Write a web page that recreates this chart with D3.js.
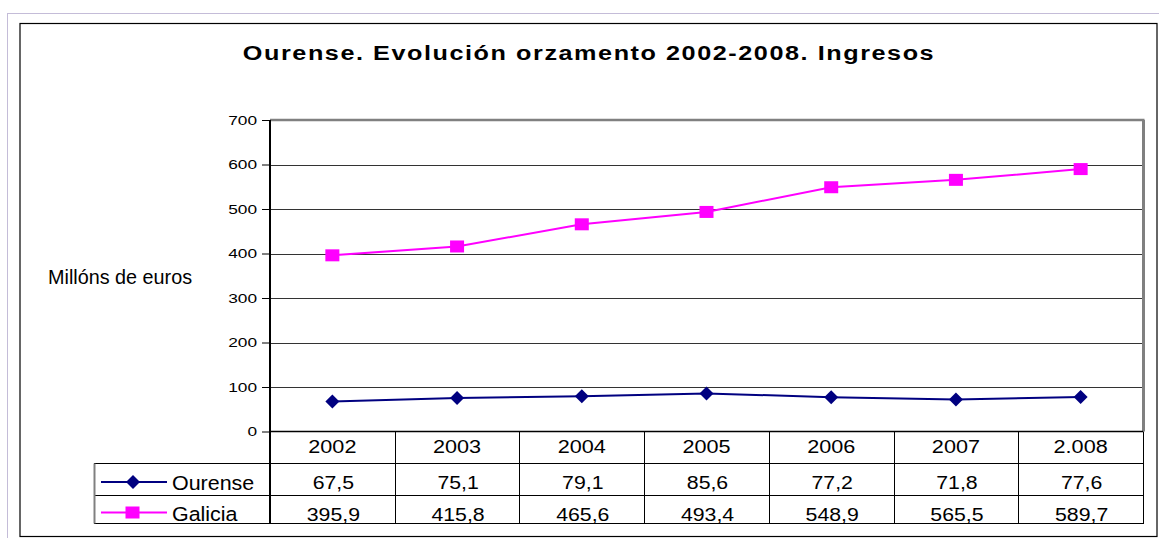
<!DOCTYPE html>
<html><head><meta charset="utf-8">
<script src="https://cdn.jsdelivr.net/npm/d3@7"></script>
<style>body{margin:0;background:#fff}svg{display:block;font-family:"Liberation Sans",Arial,sans-serif}</style>
</head><body>
<script>
const categories = ["2002","2003","2004","2005","2006","2007","2.008"];
const ourense = [67.5,75.1,79.1,85.6,77.2,71.8,77.6];
const galicia = [395.9,415.8,465.6,493.4,548.9,565.5,589.7];
const ourenseLabels = ["67,5","75,1","79,1","85,6","77,2","71,8","77,6"];
const galiciaLabels = ["395,9","415,8","465,6","493,4","548,9","565,5","589,7"];
const yTicks = [0,100,200,300,400,500,600,700];
const title = "Ourense. Evolución orzamento 2002-2008. Ingresos";
const yLabel = "Millóns de euros";

const W = 1159, H = 538;
const svg = d3.select("body").append("svg").attr("width", W).attr("height", H);

function stext(g, x, y, str, size, sx, anchor, extra){
  const t = g.append("text").attr("transform",`translate(${x},${y}) scale(${sx},1)`)
    .attr("font-size", size).attr("text-anchor", anchor || "start").text(str);
  if (extra) extra(t);
  return t;
}

// outer frames
svg.append("line").attr("x1",7).attr("x2",W).attr("y1",13.5).attr("y2",13.5).attr("stroke","#c4bcd8").attr("stroke-width",1);
svg.append("line").attr("x1",7.5).attr("x2",7.5).attr("y1",13).attr("y2",H).attr("stroke","#c4bcd8").attr("stroke-width",1);
svg.append("rect").attr("x",20).attr("y",23.5).attr("width",1137).attr("height",513).attr("fill","none").attr("stroke","#000").attr("stroke-width",1.2);

const pLeft = 270, pRight = 1143, pTop = 120, pBottom = 431.5;
const x = d3.scaleBand().domain(categories).range([pLeft, pRight]);
const y = d3.scaleLinear().domain([0,700]).range([pBottom, pTop]);

// title
stext(svg, 589, 60, title, 21, 1.2, "middle", t=>t.attr("font-weight","bold").attr("letter-spacing","1.3px"));

// y label
stext(svg, 48, 284, yLabel, 20, 0.99, "start");

// gridlines
svg.append("g").selectAll("line").data(yTicks.filter(t=>t>0 && t<700)).join("line")
  .attr("x1", pLeft).attr("x2", pRight).attr("y1", d=>Math.round(y(d))+0.5).attr("y2", d=>Math.round(y(d))+0.5)
  .attr("stroke","#333").attr("stroke-width",1);

// plot border top/right gray
svg.append("line").attr("x1",pLeft).attr("x2",pRight+1.5).attr("y1",pTop).attr("y2",pTop).attr("stroke","#808080").attr("stroke-width",2.5);
svg.append("line").attr("x1",pRight+0.5).attr("x2",pRight+0.5).attr("y1",pTop).attr("y2",pBottom).attr("stroke","#808080").attr("stroke-width",3);

// y axis
const yAxis = d3.axisLeft(y).tickValues(yTicks).tickSize(8).tickPadding(5);
const ya = svg.append("g").attr("transform",`translate(${pLeft},0)`).call(yAxis);
ya.select(".domain").attr("stroke","#000").attr("stroke-width",2).attr("d",`M0,${pTop}V${pBottom+92}`);
ya.selectAll(".tick line").attr("stroke","#000");
ya.selectAll(".tick text").attr("font-size",13.5).attr("font-family","Liberation Sans, Arial, sans-serif").attr("fill","#000")
  .attr("x", -13/1.28).attr("transform","scale(1.28,1)");

// zero line
svg.append("line").attr("x1",pLeft).attr("x2",pRight).attr("y1",pBottom).attr("y2",pBottom).attr("stroke","#000").attr("stroke-width",1.5);

// table
const rowH1 = 463.5, rowH2 = 495.5, rowEnd = 523.5;
const tg = svg.append("g");
tg.selectAll("line.col").data(categories.slice(1)).join("line").attr("class","col")
  .attr("x1", d=>Math.round(x(d))+0.5).attr("x2", d=>Math.round(x(d))+0.5)
  .attr("y1", pBottom).attr("y2", rowEnd).attr("stroke","#000");
tg.append("line").attr("x1",pRight+0.5).attr("x2",pRight+0.5).attr("y1",pBottom).attr("y2",rowEnd).attr("stroke","#000");
[rowH1,rowH2,rowEnd].forEach(yy=>{
  tg.append("line").attr("x1",94).attr("x2",pRight+1).attr("y1",yy).attr("y2",yy).attr("stroke","#000");
});
tg.append("line").attr("x1",94.5).attr("x2",94.5).attr("y1",rowH1).attr("y2",rowEnd).attr("stroke","#808080").attr("stroke-width",2);

const colC = i => x(categories[i]) + x.bandwidth()/2;
categories.forEach((c,i)=>stext(tg, colC(i), 453, c, 18.5, 1.17, "middle"));
ourenseLabels.forEach((c,i)=>stext(tg, colC(i)+1, 489, c, 18.5, 1.15, "middle"));
galiciaLabels.forEach((c,i)=>stext(tg, colC(i)+1, 520.5, c, 18.5, 1.15, "middle"));

function drawDiamond(g, cx, cy, s){
  g.append("path").attr("d",`M${cx},${cy-s}L${cx+s},${cy}L${cx},${cy+s}L${cx-s},${cy}Z`).attr("fill","#000080");
}
function drawSquare(g, cx, cy, w, h){
  g.append("rect").attr("x",cx-w/2).attr("y",cy-h/2).attr("width",w).attr("height",h).attr("fill","#ff00ff");
}

// legend
const lg = svg.append("g");
lg.append("line").attr("x1",101).attr("x2",167).attr("y1",482).attr("y2",482).attr("stroke","#000080").attr("stroke-width",2);
drawDiamond(lg,133,482,7);
stext(lg, 172, 490, "Ourense", 19.5, 1.1, "start");
lg.append("line").attr("x1",101).attr("x2",167).attr("y1",512.5).attr("y2",512.5).attr("stroke","#ff00ff").attr("stroke-width",2);
drawSquare(lg,132.5,512.5,14,12);
stext(lg, 172, 521, "Galicia", 19.5, 1.1, "start");

// lines
const cxf = (d,i)=>x(categories[i])+x.bandwidth()/2;
const line = d3.line().x(cxf).y(d=>y(d));
svg.append("path").datum(galicia).attr("d",line).attr("fill","none").attr("stroke","#ff00ff").attr("stroke-width",2);
svg.append("path").datum(ourense).attr("d",line).attr("fill","none").attr("stroke","#000080").attr("stroke-width",2);
const mg = svg.append("g");
galicia.forEach((v,i)=>drawSquare(mg,cxf(v,i),y(v),14,12));
ourense.forEach((v,i)=>drawDiamond(mg,cxf(v,i),y(v),7));
</script>
</body></html>
